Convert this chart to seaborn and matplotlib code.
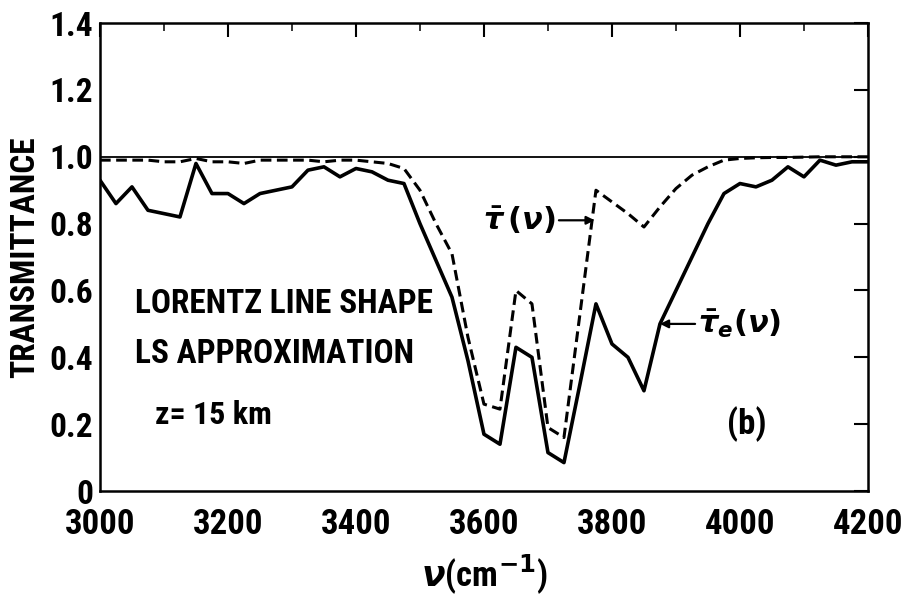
import numpy as np
import pandas as pd
import matplotlib
matplotlib.use("Agg")
import matplotlib.pyplot as plt
import seaborn as sns
from matplotlib.ticker import MultipleLocator
from matplotlib import font_manager

# ---- data ----
wavenumber = [3000, 3025, 3050, 3075, 3100, 3125, 3150, 3175, 3200, 3225,
              3250, 3275, 3300, 3325, 3350, 3375, 3400, 3425, 3450, 3475,
              3500, 3525, 3550, 3575, 3600, 3625, 3650, 3675, 3700, 3725,
              3750, 3775, 3800, 3825, 3850, 3875, 3900, 3925, 3950, 3975,
              4000, 4025, 4050, 4075, 4100, 4125, 4150, 4175, 4200]

tau_e = [0.93, 0.86, 0.91, 0.84, 0.83, 0.82, 0.98, 0.89, 0.89, 0.86,
         0.89, 0.90, 0.91, 0.96, 0.97, 0.94, 0.965, 0.955, 0.93, 0.92,
         0.80, 0.69, 0.58, 0.39, 0.17, 0.14, 0.43, 0.40, 0.115, 0.085,
         0.32, 0.56, 0.44, 0.40, 0.30, 0.50, 0.60, 0.70, 0.80, 0.89,
         0.92, 0.91, 0.93, 0.97, 0.94, 0.99, 0.975, 0.985, 0.985]

tau = [0.99, 0.99, 0.99, 0.99, 0.985, 0.985, 0.995, 0.985, 0.985, 0.98,
       0.99, 0.99, 0.99, 0.99, 0.985, 0.99, 0.99, 0.985, 0.98, 0.965,
       0.90, 0.80, 0.71, 0.46, 0.26, 0.245, 0.60, 0.56, 0.19, 0.16,
       0.53, 0.90, 0.865, 0.83, 0.79, 0.85, 0.905, 0.945, 0.97, 0.99,
       0.995, 0.997, 0.998, 0.998, 0.999, 1.0, 1.0, 1.0, 1.0]

x_ticks = [3000, 3200, 3400, 3600, 3800, 4000, 4200]
y_ticks = [0, 0.2, 0.4, 0.6, 0.8, 1.0, 1.2, 1.4]
y_tick_labels = ["0", "0.2", "0.4", "0.6", "0.8", "1.0", "1.2", "1.4"]

df = pd.DataFrame({"nu": wavenumber, "tau_e": tau_e, "tau": tau})

sns.set_style("white")
installed = {f.name for f in font_manager.fontManager.ttflist}
families = [f for f in ["Roboto Condensed", "Liberation Sans Narrow",
                        "Roboto", "DejaVu Sans"] if f in installed]
plt.rcParams["font.family"] = families
plt.rcParams["font.weight"] = "bold"
plt.rcParams["axes.labelweight"] = "bold"
plt.rcParams["text.color"] = "black"
plt.rcParams["axes.labelcolor"] = "black"
plt.rcParams["mathtext.fontset"] = "dejavusans"

fig = plt.figure(figsize=(9.03, 6.08), dpi=100)
ax = fig.add_axes([0.1107, 0.1924, 0.8505, 0.7696])

ax.axhline(1.0, color="black", lw=1.3, zorder=1)
sns.lineplot(data=df, x="nu", y="tau_e", ax=ax, color="black", lw=2.6,
             zorder=3)
sns.lineplot(data=df, x="nu", y="tau", ax=ax, color="black", lw=2.2,
             zorder=2)
ax.lines[-1].set_dashes((3.5, 1.8))

ax.set_xlim(3000, 4200)
ax.set_ylim(0, 1.4)
ax.set_xticks(x_ticks)
ax.set_xticklabels([str(v) for v in x_ticks])
ax.xaxis.set_minor_locator(MultipleLocator(100))
ax.set_yticks(y_ticks)
ax.set_yticklabels(y_tick_labels)

ax.tick_params(axis="both", which="major", direction="in", length=10,
               width=1.5, labelsize=25, top=True, right=True, pad=5,
               colors="black")
ax.tick_params(axis="y", which="major", labelsize=24)
ax.tick_params(axis="x", which="major", pad=12)
ax.tick_params(axis="both", which="minor", direction="in", length=6,
               width=1.3, top=True, right=True)
for lab in ax.get_yticklabels():
    lab.set_verticalalignment("center_baseline")
for s in ax.spines.values():
    s.set_visible(True)
    s.set_linewidth(1.8)
    s.set_color("black")

ax.set_xlabel(r"$\nu$(cm$^{-1}$)", fontsize=25, labelpad=8)
ax.set_ylabel("TRANSMITTANCE", fontsize=24, labelpad=6)

ax.text(3055, 0.56, "LORENTZ LINE SHAPE", fontsize=24, ha="left",
        va="center")
ax.text(3055, 0.41, "LS APPROXIMATION", fontsize=24, ha="left",
        va="center")
ax.text(3086, 0.228, "z= 15 km", fontsize=23, ha="left", va="center")
ax.text(4010, 0.20, "(b)", fontsize=25, ha="center", va="center")

ax.annotate(r"$\bar{\tau}\,(\nu)$", xy=(3773, 0.81), xytext=(3712, 0.81),
            fontsize=22, ha="right", va="center", fontweight="bold",
            arrowprops=dict(arrowstyle="-|>", color="black", lw=1.6,
                            mutation_scale=12, shrinkA=0, shrinkB=0))
ax.annotate(r"$\bar{\tau}_{e}(\nu)$", xy=(3875, 0.50), xytext=(3935, 0.50),
            fontsize=22, ha="left", va="center", fontweight="bold",
            arrowprops=dict(arrowstyle="-|>", color="black", lw=1.6,
                            mutation_scale=12, shrinkA=0, shrinkB=0))

fig.savefig("out.png", dpi=100, facecolor="white")
